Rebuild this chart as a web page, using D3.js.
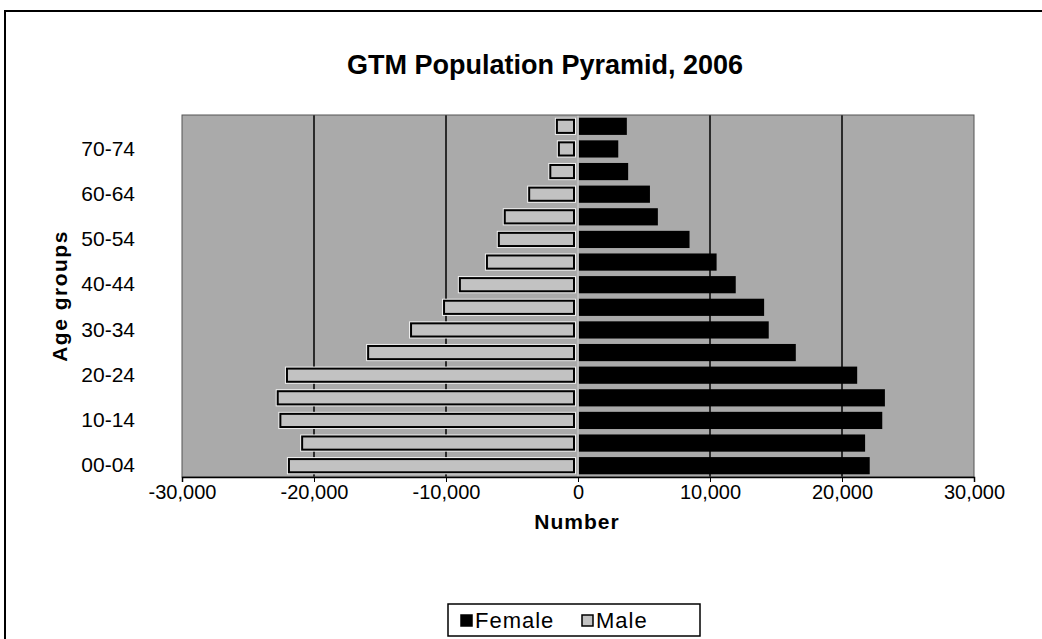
<!DOCTYPE html>
<html>
<head>
<meta charset="utf-8">
<script src="https://cdn.jsdelivr.net/npm/d3@7"></script>
<style>
  body { margin: 0; background: #fff; }
  svg text { font-family: "Liberation Sans", Arial, sans-serif; }
</style>
</head>
<body>
<div id="chart"></div>
<script>
const ageGroups = ["00-04", "05-09", "10-14", "15-19", "20-24", "25-29", "30-34", "35-39",
                   "40-44", "45-49", "50-54", "55-59", "60-64", "65-69", "70-74", "75-79"];
const female = [22100, 21750, 23050, 23250, 21150, 16500, 14450, 14100,
                11950, 10500, 8450, 6050, 5450, 3800, 3050, 3700];
const male = [-22050, -21050, -22700, -22900, -22200, -16050, -12800, -10300,
              -9100, -7050, -6150, -5700, -3850, -2250, -1600, -1750];
const xTicks = [-30000, -20000, -10000, 0, 10000, 20000, 30000];
const yLabels = ["00-04", "10-14", "20-24", "30-34", "40-44", "50-54", "60-64", "70-74"];

const W = 1042, H = 639;
const plot = { left: 182, right: 974, top: 115, bottom: 477 };

const svg = d3.select("#chart").append("svg")
  .attr("width", W)
  .attr("height", H);

// outer frame (top + left only, as in the scan)
svg.append("path")
  .attr("d", `M5,${H} L5,11 L${W},11`)
  .attr("fill", "none")
  .attr("stroke", "#000")
  .attr("stroke-width", 2);

svg.append("text")
  .attr("x", 545)
  .attr("y", 74)
  .attr("text-anchor", "middle")
  .style("font-size", "27px")
  .style("font-weight", "bold")
  .text("GTM Population Pyramid, 2006");

const x = d3.scaleLinear()
  .domain([-30000, 30000])
  .range([plot.left, plot.right]);

const y = d3.scaleBand()
  .domain(ageGroups)
  .range([plot.bottom, plot.top])
  .paddingInner(0.24)
  .paddingOuter(0.12);

// plot background
svg.append("rect")
  .attr("x", plot.left)
  .attr("y", plot.top)
  .attr("width", plot.right - plot.left)
  .attr("height", plot.bottom - plot.top)
  .attr("fill", "#aaaaaa");

// gridlines
svg.append("g")
  .selectAll("line")
  .data(xTicks.slice(1, -1))
  .join("line")
  .attr("x1", d => x(d))
  .attr("x2", d => x(d))
  .attr("y1", plot.top)
  .attr("y2", plot.bottom)
  .attr("stroke", "#000")
  .attr("stroke-width", 1.5);

// male bars: white halo, then black-edged light grey bar
svg.append("g")
  .selectAll("rect")
  .data(ageGroups)
  .join("rect")
  .attr("x", (d, i) => x(male[i]))
  .attr("y", d => y(d))
  .attr("width", (d, i) => x(0) - x(male[i]) - 2)
  .attr("height", y.bandwidth())
  .attr("fill", "#f0f0f0");

svg.append("g")
  .selectAll("rect")
  .data(ageGroups)
  .join("rect")
  .attr("x", (d, i) => x(male[i]) + 2)
  .attr("y", d => y(d) + 2)
  .attr("width", (d, i) => x(0) - x(male[i]) - 6)
  .attr("height", y.bandwidth() - 4)
  .attr("fill", "#c2c2c2")
  .attr("stroke", "#000")
  .attr("stroke-width", 2);

// female bars
svg.append("g")
  .selectAll("rect")
  .data(ageGroups)
  .join("rect")
  .attr("x", x(0))
  .attr("y", d => y(d))
  .attr("width", (d, i) => x(female[i]) - x(0))
  .attr("height", y.bandwidth())
  .attr("fill", "#000");

// light gap at zero
svg.append("line")
  .attr("x1", x(0)).attr("x2", x(0))
  .attr("y1", plot.top).attr("y2", plot.bottom)
  .attr("stroke", "#f0f0f0")
  .attr("stroke-width", 1.5);

// plot border
svg.append("rect")
  .attr("x", plot.left)
  .attr("y", plot.top)
  .attr("width", plot.right - plot.left)
  .attr("height", plot.bottom - plot.top)
  .attr("fill", "none")
  .attr("stroke", "#555")
  .attr("stroke-width", 1);

// x axis (hyphen minus, like Excel)
const fmt = d3.format(",");
const xAxis = svg.append("g")
  .attr("transform", `translate(0,${plot.bottom})`)
  .call(d3.axisBottom(x).tickValues(xTicks).tickSize(5).tickPadding(3)
    .tickFormat(d => fmt(d).replace("\u2212", "-")))
  .call(g => g.select(".domain").attr("stroke", "#000").attr("stroke-width", 1.5));
xAxis.selectAll("text")
  .style("font-size", "20px")
  .style("font-family", "Liberation Sans, Arial, sans-serif")
  .attr("fill", "#000");

// y axis labels
const yAxis = svg.append("g")
  .attr("transform", `translate(${plot.left},0)`)
  .call(d3.axisLeft(y).tickValues(yLabels).tickSize(0).tickPadding(47))
  .call(g => g.select(".domain").remove());
yAxis.selectAll("text")
  .style("font-size", "21px")
  .style("font-family", "Liberation Sans, Arial, sans-serif")
  .attr("fill", "#000");

svg.append("text")
  .attr("x", (plot.left + plot.right) / 2 - 1)
  .attr("y", 529)
  .attr("text-anchor", "middle")
  .style("font-size", "21px")
  .style("font-weight", "bold")
  .style("letter-spacing", "1px")
  .text("Number");

svg.append("text")
  .attr("transform", `translate(67,${(plot.top + plot.bottom) / 2}) rotate(-90)`)
  .attr("text-anchor", "middle")
  .style("font-size", "21px")
  .style("font-weight", "bold")
  .style("letter-spacing", "1.5px")
  .text("Age groups");

// legend
const legend = svg.append("g").attr("transform", "translate(448,604)");
legend.append("rect")
  .attr("width", 252)
  .attr("height", 32)
  .attr("fill", "#fff")
  .attr("stroke", "#000")
  .attr("stroke-width", 1.5);

const legendItems = [
  { name: "Female", fill: "#000", x: 13 },
  { name: "Male", fill: "#c2c2c2", x: 134 }
];
const li = legend.selectAll(".item")
  .data(legendItems)
  .join("g")
  .attr("class", "item")
  .attr("transform", d => `translate(${d.x},0)`);
li.append("rect")
  .attr("x", 0)
  .attr("y", 11)
  .attr("width", 11)
  .attr("height", 11)
  .attr("fill", d => d.fill)
  .attr("stroke", "#000")
  .attr("stroke-width", 1.5);
li.append("text")
  .attr("x", 14)
  .attr("y", 24)
  .style("font-size", "22px")
  .style("letter-spacing", "1px")
  .text(d => d.name);
</script>
</body>
</html>
